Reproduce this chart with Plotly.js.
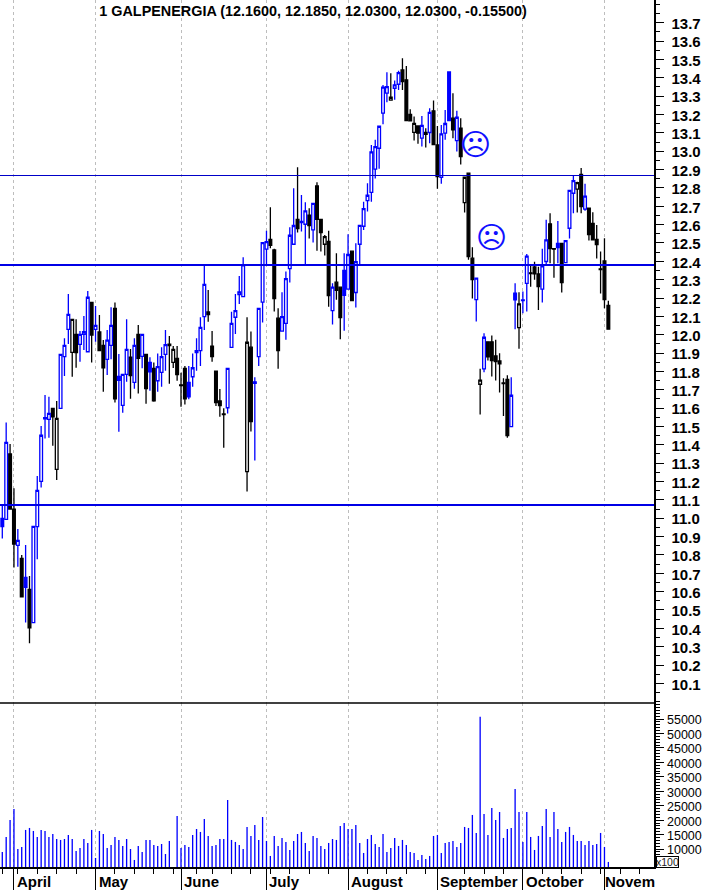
<!DOCTYPE html>
<html><head><meta charset="utf-8">
<script src="https://cdn.plot.ly/plotly-3.0.0.min.js"></script>
<style>html,body{margin:0;padding:0;background:#fff}</style></head>
<body><div id="chart" style="width:702px;height:890px"></div>
<script>
const titleText = "1 GALPENERGIA (12.1600, 12.1850, 12.0300, 12.0300, -0.15500)";
const openP = [
10.999,10.994,11.350,11.050,10.852,10.781,10.678,10.612,10.431,10.954,
11.201,11.542,11.539,11.599,11.266,11.599,11.880,12.029,11.904,12.002,
11.947,12.002,11.907,12.176,12.029,12.015,11.942,11.866,11.942,12.144,
11.773,11.615,11.784,11.877,11.740,12.002,11.882,11.893,11.849,11.817,
11.749,11.795,11.893,11.949,11.849,11.871,11.726,11.817,11.740,11.771,
11.902,11.913,12.098,12.124,11.938,11.802,11.639,11.568,11.602,11.931,
12.095,12.219,12.208,11.254,11.932,11.743,11.881,12.177,12.466,12.520,
12.462,12.090,12.019,12.062,12.360,12.493,12.629,12.611,12.602,12.651,
12.571,12.811,12.629,12.493,12.509,12.131,12.286,12.259,12.351,12.248,
12.455,12.230,12.493,12.591,12.731,12.776,12.902,13.016,13.207,13.316,
13.278,13.343,13.365,13.443,13.389,13.201,13.103,13.138,13.071,13.092,
13.102,13.220,13.034,12.858,13.098,13.432,13.180,13.058,13.125,12.720,
12.880,12.417,12.191,11.730,11.814,11.961,11.961,11.884,11.857,11.737,
11.757,11.499,12.226,12.039,12.186,12.280,12.337,12.369,12.331,12.248,
12.399,12.604,12.469,12.498,12.498,12.393,12.580,12.771,12.793,12.874,
12.684,12.689,12.607,12.520,12.359,12.402,12.160];
const highP = [
11.072,11.522,11.404,11.163,10.941,10.799,10.854,10.685,10.956,11.230,
11.502,11.671,11.662,11.599,11.639,11.893,11.980,12.222,12.084,12.084,
12.020,12.102,12.238,12.176,12.156,12.107,11.971,12.026,12.149,12.176,
11.895,11.784,12.084,11.922,11.980,12.053,12.002,11.893,11.877,11.849,
11.898,11.931,12.026,11.993,11.938,11.938,11.793,11.829,11.829,11.898,
11.980,12.095,12.385,12.244,12.020,11.802,11.704,11.599,11.817,12.125,
12.222,12.320,12.422,12.095,12.017,11.768,12.144,12.502,12.566,12.695,
12.469,12.144,12.231,12.344,12.586,12.798,12.913,12.762,12.722,12.689,
12.716,12.831,12.629,12.544,12.566,12.280,12.444,12.259,12.444,12.547,
12.455,12.498,12.596,12.725,12.825,13.034,13.062,13.136,13.361,13.430,
13.425,13.385,13.438,13.507,13.465,13.229,13.189,13.138,13.192,13.125,
13.234,13.276,13.138,13.143,13.225,13.432,13.316,13.220,13.180,12.858,
12.884,12.477,12.311,11.814,12.008,11.961,11.995,11.972,11.899,11.763,
11.779,11.768,12.280,12.231,12.235,12.440,12.380,12.397,12.371,12.468,
12.626,12.662,12.469,12.620,12.498,12.513,12.787,12.865,12.834,12.909,
12.822,12.689,12.667,12.598,12.453,12.526,12.185];
const lowP = [
10.890,10.994,11.050,10.732,10.736,10.572,10.431,10.318,10.427,10.776,
11.168,11.435,11.439,11.395,11.208,11.599,11.775,11.949,11.771,11.820,
11.853,11.917,11.907,11.848,11.962,11.913,11.689,11.780,11.866,11.630,
11.471,11.575,11.744,11.651,11.706,11.679,11.817,11.624,11.695,11.635,
11.689,11.717,11.804,11.733,11.818,11.749,11.608,11.619,11.648,11.717,
11.804,11.829,12.026,12.071,11.853,11.611,11.553,11.384,11.571,11.931,
12.004,12.168,12.208,11.145,11.472,11.314,11.830,12.066,12.380,12.471,
12.126,11.815,12.019,11.972,12.284,12.493,12.557,12.562,12.384,12.524,
12.502,12.458,12.453,12.431,12.153,12.055,12.190,11.975,12.022,12.248,
12.186,12.148,12.380,12.571,12.671,12.725,12.851,12.905,13.147,13.267,
13.278,13.280,13.334,13.334,13.167,13.165,13.058,13.040,13.025,13.020,
13.043,13.034,12.796,12.822,13.062,13.167,13.071,12.998,12.927,12.666,
12.408,12.197,12.072,11.565,11.795,11.860,11.772,11.750,11.685,11.557,
11.439,11.499,12.030,11.924,12.117,12.126,12.262,12.299,12.135,12.175,
12.375,12.389,12.311,12.389,12.230,12.389,12.524,12.662,12.666,12.662,
12.676,12.513,12.513,12.415,12.224,12.144,12.030];
const closeP = [
10.954,11.413,11.050,10.859,10.879,10.572,10.623,10.403,10.956,11.152,
11.452,11.548,11.571,11.553,11.544,11.893,11.942,12.111,12.084,11.902,
12.002,12.016,12.204,11.998,12.051,11.913,11.820,11.971,12.051,11.651,
11.751,11.784,11.920,11.777,11.942,11.871,12.002,11.706,11.798,11.640,
11.826,11.880,11.946,11.940,11.920,11.782,11.722,11.651,11.662,11.820,
11.913,12.040,12.274,12.109,11.880,11.630,11.613,11.564,11.817,12.062,
12.131,12.233,12.380,11.959,11.527,11.735,12.144,12.502,12.507,12.487,
12.197,11.913,12.099,12.306,12.542,12.595,12.578,12.618,12.675,12.595,
12.716,12.629,12.557,12.535,12.213,12.259,12.242,12.093,12.215,12.437,
12.186,12.398,12.596,12.687,12.760,12.996,13.025,13.136,13.349,13.352,
13.294,13.361,13.428,13.379,13.167,13.165,13.152,13.098,13.141,13.102,
13.212,13.036,12.862,13.094,13.151,13.167,13.116,13.185,12.971,12.858,
12.426,12.300,12.308,11.752,11.986,11.879,11.859,11.854,11.841,11.734,
11.450,11.670,12.190,12.168,12.190,12.428,12.333,12.331,12.262,12.375,
12.517,12.469,12.466,12.475,12.284,12.513,12.787,12.840,12.829,12.698,
12.755,12.546,12.517,12.491,12.355,12.191,12.030];
const volume = [
9000,14190,20060,23870,10030,10730,16610,17300,16260,14190,
16610,16260,14190,15220,13490,13150,13490,14880,13490,9340,
10380,13490,12110,16610,6920,16260,15220,10380,11420,14190,
13150,11070,13490,10030,6230,11070,9000,13150,13150,11420,
11070,11760,8300,12800,3800,21450,10380,11420,10730,14880,
16950,15920,20410,14530,11070,11420,13490,13490,26980,13150,
12460,11420,10030,17650,14530,18340,13150,21100,12800,7610,
14530,11070,13840,12460,9690,12800,15220,15920,12110,9340,
14530,13840,11070,10030,12110,13490,13150,18000,19030,16950,
16950,18340,12110,8650,13490,14880,11760,10730,15220,9000,
10380,13840,11070,13150,11420,9000,8650,6230,7960,6580,
7610,14530,14880,8650,12110,12460,12800,10730,12110,17650,
17300,21800,15570,55810,22140,14880,24220,20060,22830,13840,
16950,17300,30790,22830,12460,22830,14190,9690,14530,18000,
23870,14190,22830,16950,12460,15920,17650,14880,12800,12800,
11420,12800,11420,11760,15570,10730,5540];
const monthNames = ["April","May","June","July","August","September","October","Novem"];
const monthIndex = [3,24,46,68,89,112,134,155];
const weekIndex = [0,4,9,14,19,29,34,39,44,50,54,59,64,69,74,79,84,94,99,104,109,119,124,129,139,144,149,154,159,164];
const priceTicks = [10.1,10.2,10.3,10.4,10.5,10.6,10.7,10.8,10.9,11,11.1,11.2,11.3,11.4,11.5,11.6,11.7,11.8,11.9,12,12.1,12.2,12.3,12.4,12.5,12.6,12.7,12.8,12.9,13,13.1,13.2,13.3,13.4,13.5,13.6,13.7];
const priceTickText = priceTicks.map(v => v.toFixed(1));
const volTicks = [10000,15000,20000,25000,30000,35000,40000,45000,50000,55000];
const levelThin = [12.8676];
const levelThick = [12.380, 11.072];
const sadFaces = [[121.9,13.038],[126,12.529]];

const BLUE = '#0000ff', BLACK = '#000000';
const idx = closeP.map((_, i) => i);
const isBlue = i => i === 0 || closeP[i] >= closeP[i-1];
function candleTrace(filter, color) {
  const ids = idx.filter(filter);
  return {
    type:'candlestick', xaxis:'x', yaxis:'y', showlegend:false, hoverinfo:'skip',
    x: ids, open: ids.map(i=>openP[i]), high: ids.map(i=>highP[i]),
    low: ids.map(i=>lowP[i]), close: ids.map(i=>closeP[i]),
    increasing:{line:{color:color,width:1.3},fillcolor:'#ffffff'},
    decreasing:{line:{color:color,width:1.3},fillcolor:color},
    whiskerwidth:0
  };
}
const data = [
  candleTrace(i=>!isBlue(i), BLACK),
  candleTrace(isBlue, BLUE),
  {type:'bar', x:idx, y:volume, xaxis:'x', yaxis:'y2', width:0.34, showlegend:false, hoverinfo:'skip',
   marker:{color:BLUE,line:{width:0}}}
];
const FF = '"Liberation Sans",Arial,sans-serif';
const H = 890, W = 702;
const yp = px => 1 - px/H;
const shapes = [
  {type:'line',xref:'paper',yref:'paper',x0:0,x1:654/W,y0:yp(703),y1:yp(703),line:{color:'#000',width:1.5}}
];
levelThin.forEach(v=>shapes.push({type:'line',xref:'paper',yref:'y',x0:0,x1:654/W,y0:v,y1:v,line:{color:'#0000c8',width:1.2}}));
levelThick.forEach(v=>shapes.push({type:'line',xref:'paper',yref:'y',x0:0,x1:654/W,y0:v,y1:v,line:{color:'#0000e6',width:2}}));
const annotations = monthNames.map((m,k)=>({
  text:m,x:monthIndex[k],xref:'x',y:yp(881),yref:'paper',xanchor:'left',yanchor:'middle',xshift:k===7?0:2,
  showarrow:false,font:{family:FF,size:15,color:'#000',weight:700},borderpad:0
}));
sadFaces.forEach(p=>annotations.push({text:'\u2639',x:p[0],y:p[1],xref:'x',yref:'y',xanchor:'center',yanchor:'middle',
  showarrow:false,font:{family:'"DejaVu Sans"',size:30,color:'#1010ff'},borderpad:0}));
annotations.push({text:'x100',xref:'paper',yref:'paper',x:656/W,y:yp(862),xanchor:'left',yanchor:'middle',showarrow:false,
  font:{family:FF,size:10.5,color:'#222'},bgcolor:'#fff',bordercolor:'#000',borderwidth:1,borderpad:0,width:21,height:10});
const layout = {
  width:W,height:H,margin:{l:0,r:0,t:0,b:0},paper_bgcolor:'#fff',plot_bgcolor:'#fff',showlegend:false,
  title:{text:titleText,x:313/W,xref:'paper',xanchor:'center',y:yp(10.5),yref:'paper',yanchor:'middle',
    font:{family:FF,size:14.4,color:'#000',weight:700}},
  xaxis:{domain:[0,654/W],range:[-0.592,167.75],anchor:'y2',rangeslider:{visible:false},
    tickmode:'array',tickvals:monthIndex,ticktext:monthNames.map(()=>''),ticks:'outside',ticklen:23,tickcolor:'#000',tickwidth:1,
    showgrid:true,gridcolor:'#bdbdbd',griddash:'3px,3px',gridwidth:1,zeroline:false,showline:true,linecolor:'#000',linewidth:1.5,
    minor:{tickmode:'array',tickvals:weekIndex,ticks:'outside',ticklen:5,tickcolor:'#000',tickwidth:1,showgrid:false}},
  yaxis:{domain:[yp(703),1],range:[13.824-703/183.5,13.824],side:'right',anchor:'x',
    tickmode:'array',tickvals:priceTicks,ticktext:priceTickText,ticks:'outside',ticklen:8,tickcolor:'#000',tickwidth:1,
    tickfont:{family:FF,size:15,color:'#000',weight:700},ticklabelstandoff:5,ticklabelshift:1,
    showline:true,linecolor:'#000',linewidth:1.5,showgrid:false,zeroline:false,
    minor:{dtick:0.05,tick0:0,ticks:'outside',ticklen:4,tickcolor:'#000',tickwidth:1,showgrid:false}},
  yaxis2:{domain:[yp(867),yp(703)],range:[3790,60540],side:'right',anchor:'x',
    tickmode:'array',tickvals:volTicks,ticktext:volTicks.map(String),ticks:'outside',ticklen:8,tickcolor:'#000',tickwidth:1,
    tickfont:{family:FF,size:12.5,color:'#000'},ticklabelstandoff:1,ticklabelshift:1,
    showline:true,linecolor:'#000',linewidth:1.5,showgrid:false,zeroline:false,
    minor:{dtick:1000,tick0:0,ticks:'outside',ticklen:4,tickcolor:'#000',tickwidth:1,showgrid:false}},
  shapes:shapes,annotations:annotations,boxmode:'overlay',boxgap:0,hovermode:false
};
Plotly.newPlot('chart',data,layout,{staticPlot:true,displayModeBar:false});
</script></body></html>
